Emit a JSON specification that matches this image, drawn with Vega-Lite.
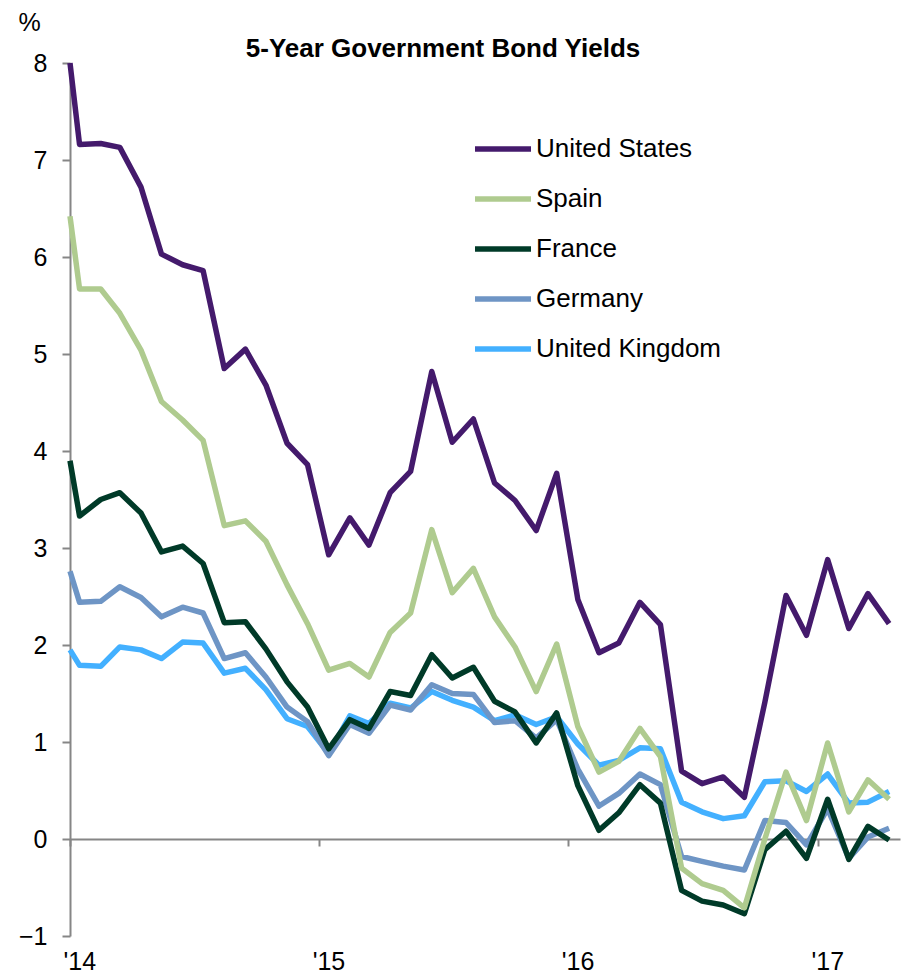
{
  "$schema": "https://vega.github.io/schema/vega-lite/v6.json",
  "width": 830,
  "height": 873,
  "autosize": {"type": "none"},
  "padding": {"left": 70, "top": 63, "right": 11, "bottom": 40},
  "background": "white",
  "config": {"view": {"stroke": null}, "font": "Liberation Sans"},
  "title": {"text": "5-Year Government Bond Yields", "fontSize": 26, "fontWeight": "bold", "color": "black", "anchor": "middle", "frame": "group", "dx": -42, "offset": 6, "baseline": "alphabetic", "dy": 79},
  "data": {"values": [
    {"date":"2014-01-01","country":"United Kingdom","yield":1.95},
    {"date":"2014-01-15","country":"United Kingdom","yield":1.79},
    {"date":"2014-02-15","country":"United Kingdom","yield":1.78},
    {"date":"2014-03-15","country":"United Kingdom","yield":1.98},
    {"date":"2014-04-15","country":"United Kingdom","yield":1.95},
    {"date":"2014-05-15","country":"United Kingdom","yield":1.86},
    {"date":"2014-06-15","country":"United Kingdom","yield":2.03},
    {"date":"2014-07-15","country":"United Kingdom","yield":2.02},
    {"date":"2014-08-15","country":"United Kingdom","yield":1.71},
    {"date":"2014-09-15","country":"United Kingdom","yield":1.76},
    {"date":"2014-10-15","country":"United Kingdom","yield":1.54},
    {"date":"2014-11-15","country":"United Kingdom","yield":1.24},
    {"date":"2014-12-15","country":"United Kingdom","yield":1.16},
    {"date":"2015-01-15","country":"United Kingdom","yield":0.88},
    {"date":"2015-02-15","country":"United Kingdom","yield":1.27},
    {"date":"2015-03-15","country":"United Kingdom","yield":1.19},
    {"date":"2015-04-15","country":"United Kingdom","yield":1.40},
    {"date":"2015-05-15","country":"United Kingdom","yield":1.35},
    {"date":"2015-06-15","country":"United Kingdom","yield":1.52},
    {"date":"2015-07-15","country":"United Kingdom","yield":1.43},
    {"date":"2015-08-15","country":"United Kingdom","yield":1.36},
    {"date":"2015-09-15","country":"United Kingdom","yield":1.22},
    {"date":"2015-10-15","country":"United Kingdom","yield":1.28},
    {"date":"2015-11-15","country":"United Kingdom","yield":1.18},
    {"date":"2015-12-15","country":"United Kingdom","yield":1.26},
    {"date":"2016-01-15","country":"United Kingdom","yield":0.98},
    {"date":"2016-02-15","country":"United Kingdom","yield":0.76},
    {"date":"2016-03-15","country":"United Kingdom","yield":0.81},
    {"date":"2016-04-15","country":"United Kingdom","yield":0.94},
    {"date":"2016-05-15","country":"United Kingdom","yield":0.93},
    {"date":"2016-06-15","country":"United Kingdom","yield":0.38},
    {"date":"2016-07-15","country":"United Kingdom","yield":0.28},
    {"date":"2016-08-15","country":"United Kingdom","yield":0.21},
    {"date":"2016-09-15","country":"United Kingdom","yield":0.24},
    {"date":"2016-10-15","country":"United Kingdom","yield":0.59},
    {"date":"2016-11-15","country":"United Kingdom","yield":0.60},
    {"date":"2016-12-15","country":"United Kingdom","yield":0.49},
    {"date":"2017-01-15","country":"United Kingdom","yield":0.67},
    {"date":"2017-02-15","country":"United Kingdom","yield":0.37},
    {"date":"2017-03-15","country":"United Kingdom","yield":0.38},
    {"date":"2017-04-15","country":"United Kingdom","yield":0.49},

    {"date":"2014-01-01","country":"Germany","yield":2.76},
    {"date":"2014-01-15","country":"Germany","yield":2.44},
    {"date":"2014-02-15","country":"Germany","yield":2.45},
    {"date":"2014-03-15","country":"Germany","yield":2.60},
    {"date":"2014-04-15","country":"Germany","yield":2.49},
    {"date":"2014-05-15","country":"Germany","yield":2.29},
    {"date":"2014-06-15","country":"Germany","yield":2.39},
    {"date":"2014-07-15","country":"Germany","yield":2.33},
    {"date":"2014-08-15","country":"Germany","yield":1.86},
    {"date":"2014-09-15","country":"Germany","yield":1.92},
    {"date":"2014-10-15","country":"Germany","yield":1.67},
    {"date":"2014-11-15","country":"Germany","yield":1.36},
    {"date":"2014-12-15","country":"Germany","yield":1.21},
    {"date":"2015-01-15","country":"Germany","yield":0.86},
    {"date":"2015-02-15","country":"Germany","yield":1.18},
    {"date":"2015-03-15","country":"Germany","yield":1.09},
    {"date":"2015-04-15","country":"Germany","yield":1.38},
    {"date":"2015-05-15","country":"Germany","yield":1.33},
    {"date":"2015-06-15","country":"Germany","yield":1.59},
    {"date":"2015-07-15","country":"Germany","yield":1.50},
    {"date":"2015-08-15","country":"Germany","yield":1.49},
    {"date":"2015-09-15","country":"Germany","yield":1.20},
    {"date":"2015-10-15","country":"Germany","yield":1.22},
    {"date":"2015-11-15","country":"Germany","yield":1.04},
    {"date":"2015-12-15","country":"Germany","yield":1.23},
    {"date":"2016-01-15","country":"Germany","yield":0.72},
    {"date":"2016-02-15","country":"Germany","yield":0.34},
    {"date":"2016-03-15","country":"Germany","yield":0.47},
    {"date":"2016-04-15","country":"Germany","yield":0.67},
    {"date":"2016-05-15","country":"Germany","yield":0.56},
    {"date":"2016-06-15","country":"Germany","yield":-0.18},
    {"date":"2016-07-15","country":"Germany","yield":-0.23},
    {"date":"2016-08-15","country":"Germany","yield":-0.28},
    {"date":"2016-09-15","country":"Germany","yield":-0.32},
    {"date":"2016-10-15","country":"Germany","yield":0.19},
    {"date":"2016-11-15","country":"Germany","yield":0.17},
    {"date":"2016-12-15","country":"Germany","yield":-0.06},
    {"date":"2017-01-15","country":"Germany","yield":0.31},
    {"date":"2017-02-15","country":"Germany","yield":-0.20},
    {"date":"2017-03-15","country":"Germany","yield":0.02},
    {"date":"2017-04-15","country":"Germany","yield":0.11},

    {"date":"2014-01-01","country":"France","yield":3.90},
    {"date":"2014-01-15","country":"France","yield":3.33},
    {"date":"2014-02-15","country":"France","yield":3.50},
    {"date":"2014-03-15","country":"France","yield":3.57},
    {"date":"2014-04-15","country":"France","yield":3.36},
    {"date":"2014-05-15","country":"France","yield":2.96},
    {"date":"2014-06-15","country":"France","yield":3.02},
    {"date":"2014-07-15","country":"France","yield":2.84},
    {"date":"2014-08-15","country":"France","yield":2.23},
    {"date":"2014-09-15","country":"France","yield":2.24},
    {"date":"2014-10-15","country":"France","yield":1.96},
    {"date":"2014-11-15","country":"France","yield":1.62},
    {"date":"2014-12-15","country":"France","yield":1.36},
    {"date":"2015-01-15","country":"France","yield":0.93},
    {"date":"2015-02-15","country":"France","yield":1.23},
    {"date":"2015-03-15","country":"France","yield":1.14},
    {"date":"2015-04-15","country":"France","yield":1.52},
    {"date":"2015-05-15","country":"France","yield":1.48},
    {"date":"2015-06-15","country":"France","yield":1.90},
    {"date":"2015-07-15","country":"France","yield":1.66},
    {"date":"2015-08-15","country":"France","yield":1.77},
    {"date":"2015-09-15","country":"France","yield":1.42},
    {"date":"2015-10-15","country":"France","yield":1.31},
    {"date":"2015-11-15","country":"France","yield":0.99},
    {"date":"2015-12-15","country":"France","yield":1.30},
    {"date":"2016-01-15","country":"France","yield":0.55},
    {"date":"2016-02-15","country":"France","yield":0.09},
    {"date":"2016-03-15","country":"France","yield":0.27},
    {"date":"2016-04-15","country":"France","yield":0.56},
    {"date":"2016-05-15","country":"France","yield":0.37},
    {"date":"2016-06-15","country":"France","yield":-0.53},
    {"date":"2016-07-15","country":"France","yield":-0.64},
    {"date":"2016-08-15","country":"France","yield":-0.68},
    {"date":"2016-09-15","country":"France","yield":-0.77},
    {"date":"2016-10-15","country":"France","yield":-0.11},
    {"date":"2016-11-15","country":"France","yield":0.08},
    {"date":"2016-12-15","country":"France","yield":-0.20},
    {"date":"2017-01-15","country":"France","yield":0.41},
    {"date":"2017-02-15","country":"France","yield":-0.21},
    {"date":"2017-03-15","country":"France","yield":0.13},
    {"date":"2017-04-15","country":"France","yield":-0.01},

    {"date":"2014-01-01","country":"Spain","yield":6.42},
    {"date":"2014-01-15","country":"Spain","yield":5.67},
    {"date":"2014-02-15","country":"Spain","yield":5.67},
    {"date":"2014-03-15","country":"Spain","yield":5.42},
    {"date":"2014-04-15","country":"Spain","yield":5.04},
    {"date":"2014-05-15","country":"Spain","yield":4.51},
    {"date":"2014-06-15","country":"Spain","yield":4.32},
    {"date":"2014-07-15","country":"Spain","yield":4.11},
    {"date":"2014-08-15","country":"Spain","yield":3.23},
    {"date":"2014-09-15","country":"Spain","yield":3.28},
    {"date":"2014-10-15","country":"Spain","yield":3.07},
    {"date":"2014-11-15","country":"Spain","yield":2.62},
    {"date":"2014-12-15","country":"Spain","yield":2.22},
    {"date":"2015-01-15","country":"Spain","yield":1.74},
    {"date":"2015-02-15","country":"Spain","yield":1.81},
    {"date":"2015-03-15","country":"Spain","yield":1.67},
    {"date":"2015-04-15","country":"Spain","yield":2.13},
    {"date":"2015-05-15","country":"Spain","yield":2.33},
    {"date":"2015-06-15","country":"Spain","yield":3.19},
    {"date":"2015-07-15","country":"Spain","yield":2.54},
    {"date":"2015-08-15","country":"Spain","yield":2.79},
    {"date":"2015-09-15","country":"Spain","yield":2.29},
    {"date":"2015-10-15","country":"Spain","yield":1.98},
    {"date":"2015-11-15","country":"Spain","yield":1.52},
    {"date":"2015-12-15","country":"Spain","yield":2.01},
    {"date":"2016-01-15","country":"Spain","yield":1.16},
    {"date":"2016-02-15","country":"Spain","yield":0.69},
    {"date":"2016-03-15","country":"Spain","yield":0.80},
    {"date":"2016-04-15","country":"Spain","yield":1.14},
    {"date":"2016-05-15","country":"Spain","yield":0.85},
    {"date":"2016-06-15","country":"Spain","yield":-0.30},
    {"date":"2016-07-15","country":"Spain","yield":-0.46},
    {"date":"2016-08-15","country":"Spain","yield":-0.53},
    {"date":"2016-09-15","country":"Spain","yield":-0.71},
    {"date":"2016-10-15","country":"Spain","yield":0.00},
    {"date":"2016-11-15","country":"Spain","yield":0.69},
    {"date":"2016-12-15","country":"Spain","yield":0.19},
    {"date":"2017-01-15","country":"Spain","yield":0.99},
    {"date":"2017-02-15","country":"Spain","yield":0.28},
    {"date":"2017-03-15","country":"Spain","yield":0.61},
    {"date":"2017-04-15","country":"Spain","yield":0.41},

    {"date":"2014-01-01","country":"United States","yield":8.00},
    {"date":"2014-01-15","country":"United States","yield":7.16},
    {"date":"2014-02-15","country":"United States","yield":7.17},
    {"date":"2014-03-15","country":"United States","yield":7.13},
    {"date":"2014-04-15","country":"United States","yield":6.72},
    {"date":"2014-05-15","country":"United States","yield":6.03},
    {"date":"2014-06-15","country":"United States","yield":5.92},
    {"date":"2014-07-15","country":"United States","yield":5.86},
    {"date":"2014-08-15","country":"United States","yield":4.85},
    {"date":"2014-09-15","country":"United States","yield":5.05},
    {"date":"2014-10-15","country":"United States","yield":4.68},
    {"date":"2014-11-15","country":"United States","yield":4.08},
    {"date":"2014-12-15","country":"United States","yield":3.86},
    {"date":"2015-01-15","country":"United States","yield":2.93},
    {"date":"2015-02-15","country":"United States","yield":3.31},
    {"date":"2015-03-15","country":"United States","yield":3.03},
    {"date":"2015-04-15","country":"United States","yield":3.57},
    {"date":"2015-05-15","country":"United States","yield":3.79},
    {"date":"2015-06-15","country":"United States","yield":4.82},
    {"date":"2015-07-15","country":"United States","yield":4.09},
    {"date":"2015-08-15","country":"United States","yield":4.33},
    {"date":"2015-09-15","country":"United States","yield":3.67},
    {"date":"2015-10-15","country":"United States","yield":3.49},
    {"date":"2015-11-15","country":"United States","yield":3.18},
    {"date":"2015-12-15","country":"United States","yield":3.77},
    {"date":"2016-01-15","country":"United States","yield":2.47},
    {"date":"2016-02-15","country":"United States","yield":1.92},
    {"date":"2016-03-15","country":"United States","yield":2.02},
    {"date":"2016-04-15","country":"United States","yield":2.44},
    {"date":"2016-05-15","country":"United States","yield":2.21},
    {"date":"2016-06-15","country":"United States","yield":0.70},
    {"date":"2016-07-15","country":"United States","yield":0.57},
    {"date":"2016-08-15","country":"United States","yield":0.64},
    {"date":"2016-09-15","country":"United States","yield":0.43},
    {"date":"2016-10-15","country":"United States","yield":1.41},
    {"date":"2016-11-15","country":"United States","yield":2.51},
    {"date":"2016-12-15","country":"United States","yield":2.10},
    {"date":"2017-01-15","country":"United States","yield":2.88},
    {"date":"2017-02-15","country":"United States","yield":2.17},
    {"date":"2017-03-15","country":"United States","yield":2.53},
    {"date":"2017-04-15","country":"United States","yield":2.22}
  ]},
  "mark": {"type": "line", "strokeWidth": 5.5, "strokeJoin": "round"},
  "encoding": {
    "x": {
      "field": "date", "type": "temporal",
      "scale": {"type": "utc", "domain": [{"year": 2014, "month": 1, "date": 1, "utc": true}, {"year": 2017, "month": 5, "date": 1, "utc": true}]},
      "axis": {
        "title": null, "grid": false, "orient": "bottom", "offset": -97,
        "values": [{"year": 2014, "month": 1, "date": 1, "utc": true}, {"year": 2015, "month": 1, "date": 1, "utc": true}, {"year": 2016, "month": 1, "date": 1, "utc": true}, {"year": 2017, "month": 1, "date": 1, "utc": true}],
        "labelExpr": "\"'\" + utcFormat(datum.value, '%y')",
        "domainColor": "#868686", "domainWidth": 2,
        "tickColor": "#868686", "tickWidth": 2, "tickSize": 7,
        "labelFontSize": 25, "labelColor": "black", "labelPadding": 103,
        "labelAlign": "left", "labelOffset": -7, "labelBaseline": "top",
        "labelFlush": false, "labelOverlap": false
      }
    },
    "y": {
      "field": "yield", "type": "quantitative",
      "scale": {"domain": [-1, 8], "nice": false, "zero": false},
      "axis": {
        "grid": false, "values": [-1, 0, 1, 2, 3, 4, 5, 6, 7, 8],
        "domainColor": "#868686", "domainWidth": 2,
        "tickColor": "#868686", "tickWidth": 2, "tickSize": 8,
        "labelFontSize": 25, "labelColor": "black", "labelPadding": 15,
        "title": "%", "titleAngle": 0, "titleFontSize": 25, "titleFontWeight": "normal",
        "titleColor": "black", "titleX": -41, "titleY": -33, "titleAlign": "center", "titleBaseline": "alphabetic"
      }
    },
    "color": {
      "field": "country", "type": "nominal",
      "scale": {"domain": ["United States", "Spain", "France", "Germany", "United Kingdom"], "range": ["#441A6C", "#AFCB8F", "#003A28", "#6E95C5", "#43B0FF"]},
      "legend": {
        "orient": "none", "legendX": 402, "legendY": 71, "title": null,
        "symbolType": "stroke", "symbolSize": 3136, "symbolStrokeWidth": 5.5,
        "labelFontSize": 26, "labelColor": "black", "labelOffset": 2,
        "rowPadding": 20, "clipHeight": 30, "padding": 0, "labelLimit": 400
      }
    }
  }
}
